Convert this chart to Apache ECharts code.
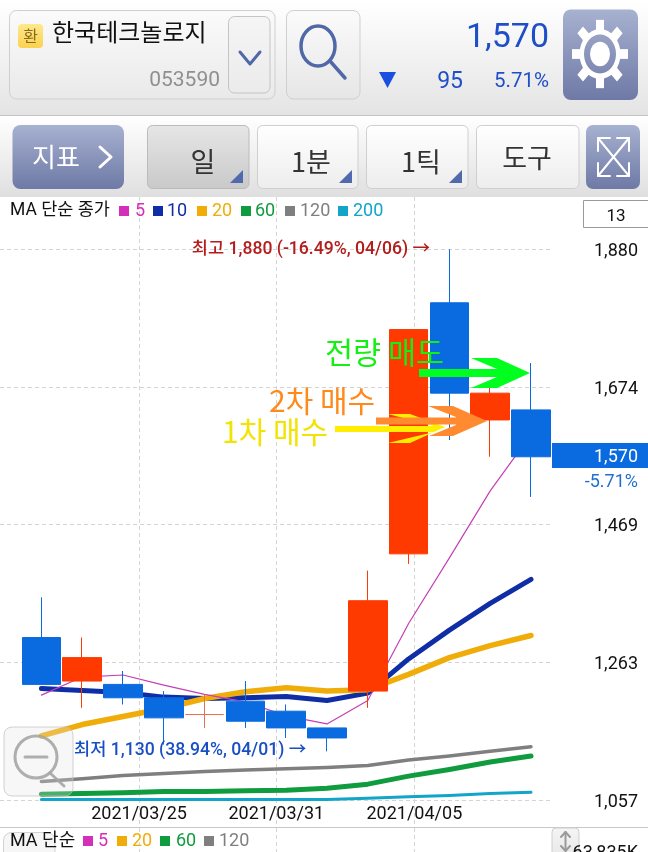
<!DOCTYPE html>
<html><head><meta charset="utf-8">
<style>html,body{margin:0;padding:0;background:#fff;overflow:hidden}#c{width:648px;height:852px}</style>
<script src="https://cdn.jsdelivr.net/npm/echarts@6/dist/echarts.min.js"></script>
</head><body><div id="c"></div>
<script>
// --- data ---
const categories = ['03/22','03/23','03/24','03/25','03/26','03/29','03/30','03/31','04/01','04/02','04/05','04/06','04/07'];
// [open, close, low, high]
const candles = [
 [1300,1230,1230,1360],[1235,1270,1195,1300],[1230,1210,1200,1250],[1210,1180,1140,1220],
 [1185,1185,1165,1215],[1205,1175,1165,1235],[1190,1165,1150,1200],[1165,1150,1130,1165],
 [1220,1355,1195,1400],[1425,1760,1410,1760],[1800,1665,1595,1880],[1625,1665,1570,1675],
 [1640,1570,1510,1710]];
const ma5   = [1214,1241,1244,1229,1215,1204,1183,1171,1206,1321,1419,1519,1603];
const ma10  = [1224,1221,1218,1211,1209,1210,1212,1206,1217,1268,1311,1351,1387];
const ma20  = [1153,1170,1182,1194,1209,1219,1225,1220,1222,1245,1270,1288,1303];
const ma60  = [1066,1067,1068,1070,1070,1071,1072,1075,1081,1093,1103,1114,1123];
const ma120 = [1085,1089,1094,1097,1100,1102,1104,1106,1109,1117,1123,1130,1137];
const ma200 = [1058,1058,1058,1058,1058,1058,1058,1058,1060,1062,1064,1067,1069];
const priceTicks = [1057,1263,1469,1674,1880];
const dateTickPositions = [2.89,6.25,9.63];
const dateTickLabels = ['2021/03/25','2021/03/31','2021/04/05'];

const FONT = "Roboto, 'Noto Sans CJK KR', sans-serif";
const KR = "'Noto Sans CJK KR', Roboto, sans-serif";
const RED = '#ff3a00', BLUE = '#0a6be0';
const C = {m5:'#d42fb8', m10:'#0f2ea6', m20:'#f0ad0a', m60:'#0f9c3e', m120:'#7f7f7f', m200:'#12a5c9'};
const yMin = 1017, yMax = 1958;

// --- decoration helpers ---
const Z = 100;
const grad = (a,b)=>({type:'linear',x:0,y:0,x2:0,y2:1,colorStops:[{offset:0,color:a},{offset:1,color:b}]});
const box = (x0,y0,x1,y1,r,fill,stroke)=>({type:'rect',z:Z,silent:true,shape:{x:x0,y:y0,width:x1-x0,height:y1-y0,r:r},style:{fill:fill,stroke:stroke||null,lineWidth:1}});
const txt = (x,y,s,size,color,align,font,weight)=>({type:'text',z:Z+4,silent:true,x:x,y:y,style:{text:s,fontSize:size,fill:color,align:align||'left',verticalAlign:'middle',fontFamily:font||FONT,fontWeight:weight||'normal'}});
const line = (pts,color,w)=>({type:'polyline',z:Z+1,silent:true,shape:{points:pts},style:{stroke:color,lineWidth:w,fill:null,lineCap:'round',lineJoin:'round'}});
const poly = (pts,color,z)=>({type:'polygon',z:z||Z+2,silent:true,shape:{points:pts},style:{fill:color}});
const BTN = grad('#a7b1d0','#6e79a6');

const gearTeeth = [0,45,90,135,180,225,270,315].map(d=>({type:'rect',z:Z+1,silent:true,rotation:d*Math.PI/180,shape:{x:-4,y:-28,width:8,height:10},style:{fill:'#fff'}}));
const gear = {type:'group',x:600,y:54,scaleY:1.22,children:[
  ...gearTeeth,
  {type:'ring',z:Z+1,silent:true,shape:{cx:0,cy:0,r:20.5,r0:16},style:{fill:'#fff'}},
  {type:'circle',z:Z+1,silent:true,shape:{cx:0,cy:0,r:10},style:{fill:'#fff'}}
]};

function legendRow(items,y,size,sq){
  const out=[];
  items.forEach(it=>{
    out.push({type:'rect',z:Z,silent:true,shape:{x:it[0],y:y-sq/2,width:sq,height:sq},style:{fill:it[3]}});
    out.push(txt(it[1],y,it[2],size,it[3]));
  });
  return out;
}
function corner(x,y){return poly([[x,y+13],[x+13,y+13],[x+13,y]],'#5169ad');}

const graphics = [
  // top bars
  box(0,0,648,115,0,grad('#ffffff','#e4e4e4')),
  box(0,115,648,116,0,'#c4c4c4'),
  box(0,116,648,197,0,grad('#ffffff','#dfdfdf')),
  // name box
  box(9.5,10.5,275,99,7,grad('#fbfbfb','#e9e9e9'),'#cfcfcf'),
  box(18,24,43,48,4,grad('#ffe88c','#fbd14f')),
  txt(30.5,36,'환',16,'#8a6a1c','center',KR),
  txt(52,32,'한국테크놀로지',24,'#111','left',KR),
  txt(220,81,'053590',21,'#8f8f8f','right'),
  box(228.5,16.5,270,93,6,grad('#f5f5f5','#ebebeb'),'#c4c4c4'),
  line([[240,52],[250,64],[260,52]],'#5068a8',3),
  // search
  box(286.5,10.5,360,99,7,grad('#fbfbfb','#e6e6e6'),'#cfcfcf'),
  {type:'ellipse',z:Z+1,silent:true,shape:{cx:318,cy:46,rx:17,ry:20},style:{fill:null,stroke:'#5068a8',lineWidth:3.5}},
  line([[330,61],[345,78]],'#5068a8',3.5),
  // price
  txt(549,38,'1,570',34,'#1f4fc8','right'),
  poly([[379,72],[396,72],[387.5,88]],'#1a4fe0',Z+1),
  txt(463,82,'95',23,'#1f4fc8','right'),
  txt(549,82,'5.71%',20.5,'#1f4fc8','right'),
  // gear
  box(563,9.5,638,100,8,BTN),
  gear,
  // toolbar
  box(12.5,125,124,189,8,BTN),
  txt(32,157,'지표',26,'#fff','left',KR),
  line([[100,147],[111,157],[100,167]],'#fff',3),
  box(147.5,125.5,249,188.5,5,grad('#e6e6e6','#c9c9c9'),'#bbb'),
  txt(203,162,'일',27,'#333','center',KR),
  corner(230,170),
  box(257.5,125.5,358,188.5,5,grad('#ffffff','#ededed'),'#cfcfcf'),
  txt(311,162,'1분',27,'#333','center',KR),
  corner(339,170),
  box(366.5,125.5,468,188.5,5,grad('#ffffff','#ededed'),'#cfcfcf'),
  txt(421,162,'1틱',27,'#333','center',KR),
  corner(449,170),
  box(476.5,125.5,579,188.5,5,grad('#ffffff','#ededed'),'#cfcfcf'),
  txt(527,158,'도구',27,'#333','center',KR),
  box(586,125,640,189,7,BTN),
  line([[598,138],[629,176]],'#fff',2), line([[629,138],[598,176]],'#fff',2),
  line([[598,151],[598,138],[610,138]],'#fff',2), line([[617,138],[629,138],[629,151]],'#fff',2),
  line([[598,163],[598,176],[610,176]],'#fff',2), line([[617,176],[629,176],[629,163]],'#fff',2),
  // legend row top
  txt(10,211,'MA 단순 종가',17.5,'#111','left',FONT),
  ...legendRow([[119,135,'5',C.m5],[153,167,'10',C.m10],[197,212,'20',C.m20],[241,255,'60',C.m60],[285,300,'120',C.m120],[338,353,'200',C.m200]],211,18,10),
  box(583.5,200.5,649,227.5,0,'#fff','#9a9a9a'),
  txt(616,217,'13',17,'#111','center'),
  // current price
  box(552,443,648,468,0,BLUE),
  txt(638,457,'1,570',18,'#fff','right'),
  txt(638,482,'-5.71%',18,'#1f6fd0','right'),
  // high / low notes
  txt(430,250,'최고 1,880 (-16.49%, 04/06) →',17.6,'#b51c1c','right',FONT,500),
  txt(74,751,'최저 1,130 (38.94%, 04/01) →',17.6,'#1a4fc4','left',FONT,500),
  // hand-drawn annotations
  txt(325,352,'전량 매도',30.5,'#14f014','left',KR),
  txt(269,401,'2차 매수',30,'#ff8a1c','left',KR),
  txt(222,432,'1차 매수',30,'#f2e400','left',KR),
  poly([[419,369],[497,369],[471,358],[497,358],[530,373],[497,388],[471,388],[497,377],[419,377]],'#00ff1e'),
  poly([[428,406],[453,406],[487,421],[453,436],[429,436],[456,425],[456,417]],'#ff8a30',Z+2),
  poly([[335,426],[434,426],[388,414],[410,414],[445,427],[410,443],[388,443],[434,432],[335,432]],'#ffee00',Z+3),
  Object.assign(box(376,417.5,457,424.5,0,'#ff8a30'),{z:Z+3}),
  // zoom button
  box(4,727,73,796,8,'rgba(225,225,225,0.28)','rgba(190,190,190,0.7)'),
  {type:'ellipse',z:Z+1,silent:true,shape:{cx:36,cy:757,rx:21,ry:21},style:{fill:null,stroke:'rgba(165,165,165,0.9)',lineWidth:3}},
  line([[25,757],[47,757]],'rgba(165,165,165,0.9)',3),
  line([[50,773],[64,786]],'rgba(165,165,165,0.9)',3),
  // bottom pane
  box(0,827,648,828,0,'#c8c8c8'),
  box(3.5,832.5,55,860,8,'rgba(235,235,235,0.45)','rgba(200,200,200,0.8)'),
  txt(10,841,'MA 단순',18,'#111','left',FONT),
  ...legendRow([[83,98,'5',C.m5],[117,132,'20',C.m20],[160,176,'60',C.m60],[204,219,'120',C.m120]],841,18,10),
  box(552,828,579,860,4,grad('#f5f5f5','#e6e6e6'),'#cfcfcf'),
  line([[565.5,832],[565.5,850]],'#9a9a9a',2),
  line([[561,837],[565.5,832],[570,837]],'#9a9a9a',2),
  line([[561,846],[565.5,851],[570,846]],'#9a9a9a',2),
  txt(638,853,'63,835K',18,'#111','right')
];

const dashed = {show:true,lineStyle:{type:[4,3],color:'#d4d4d4',width:1}};
const mkLine = (name,data,color,w)=>({name:name,type:'line',data:data,xAxisIndex:1,yAxisIndex:1,symbol:'none',z:1,silent:true,
  lineStyle:{color:color,width:w,cap:'round',join:'round'},itemStyle:{color:color}});

const chart = echarts.init(document.getElementById('c'),null,{renderer:'canvas'});
chart.setOption({
  animation:false,
  backgroundColor:'#fff',
  tooltip:{show:false},
  grid:[
    {left:0,width:552,top:197,height:630},
    {left:21,width:530.4,top:197,height:630},
    {left:0,width:552,top:828,height:40}
  ],
  xAxis:[
    {gridIndex:0,type:'value',min:-0.515,max:13,
     axisLine:{show:false},
     axisTick:{show:false,customValues:dateTickPositions},
     splitLine:dashed,
     axisLabel:{customValues:dateTickPositions,inside:true,margin:4,color:'#111',fontSize:18,fontFamily:FONT,
       formatter:v=>dateTickLabels[dateTickPositions.indexOf(v)]||''}},
    {gridIndex:1,type:'category',data:categories,show:false},
    {gridIndex:2,type:'value',min:-0.515,max:13,
     axisLine:{show:false},axisLabel:{show:false},
     axisTick:{show:false,customValues:dateTickPositions},splitLine:dashed}
  ],
  yAxis:[
    {gridIndex:0,type:'value',position:'right',min:yMin,max:yMax,
     axisLine:{show:false},
     axisTick:{show:false,customValues:priceTicks},
     splitLine:dashed,
     axisLabel:{customValues:priceTicks,align:'right',margin:86,color:'#111',fontSize:18,fontFamily:FONT,
       rich:{p:{fontSize:18,fontFamily:FONT,color:'#111',padding:[4,0,0,0]}},
       formatter:v=>'{p|'+v.toLocaleString('en-US')+'}'}},
    {gridIndex:1,type:'value',min:yMin,max:yMax,show:false},
    {gridIndex:2,type:'value',min:0,max:1,show:false}
  ],
  series:[
    mkLine('200',ma200,C.m200,3),
    mkLine('120',ma120,C.m120,3.5),
    mkLine('60',ma60,C.m60,5),
    mkLine('10',ma10,C.m10,5),
    mkLine('20',ma20,C.m20,5.5),
    mkLine('5',ma5,'#c53fb4',1.2),
    {name:'candle',type:'candlestick',data:candles,xAxisIndex:1,yAxisIndex:1,barWidth:39,z:2,silent:true,
     itemStyle:{color:RED,color0:BLUE,borderColor:RED,borderColor0:BLUE,borderWidth:1,borderColorDoji:'#e8705a'}}
  ],
  graphic:{elements:graphics}
});
</script></body></html>
